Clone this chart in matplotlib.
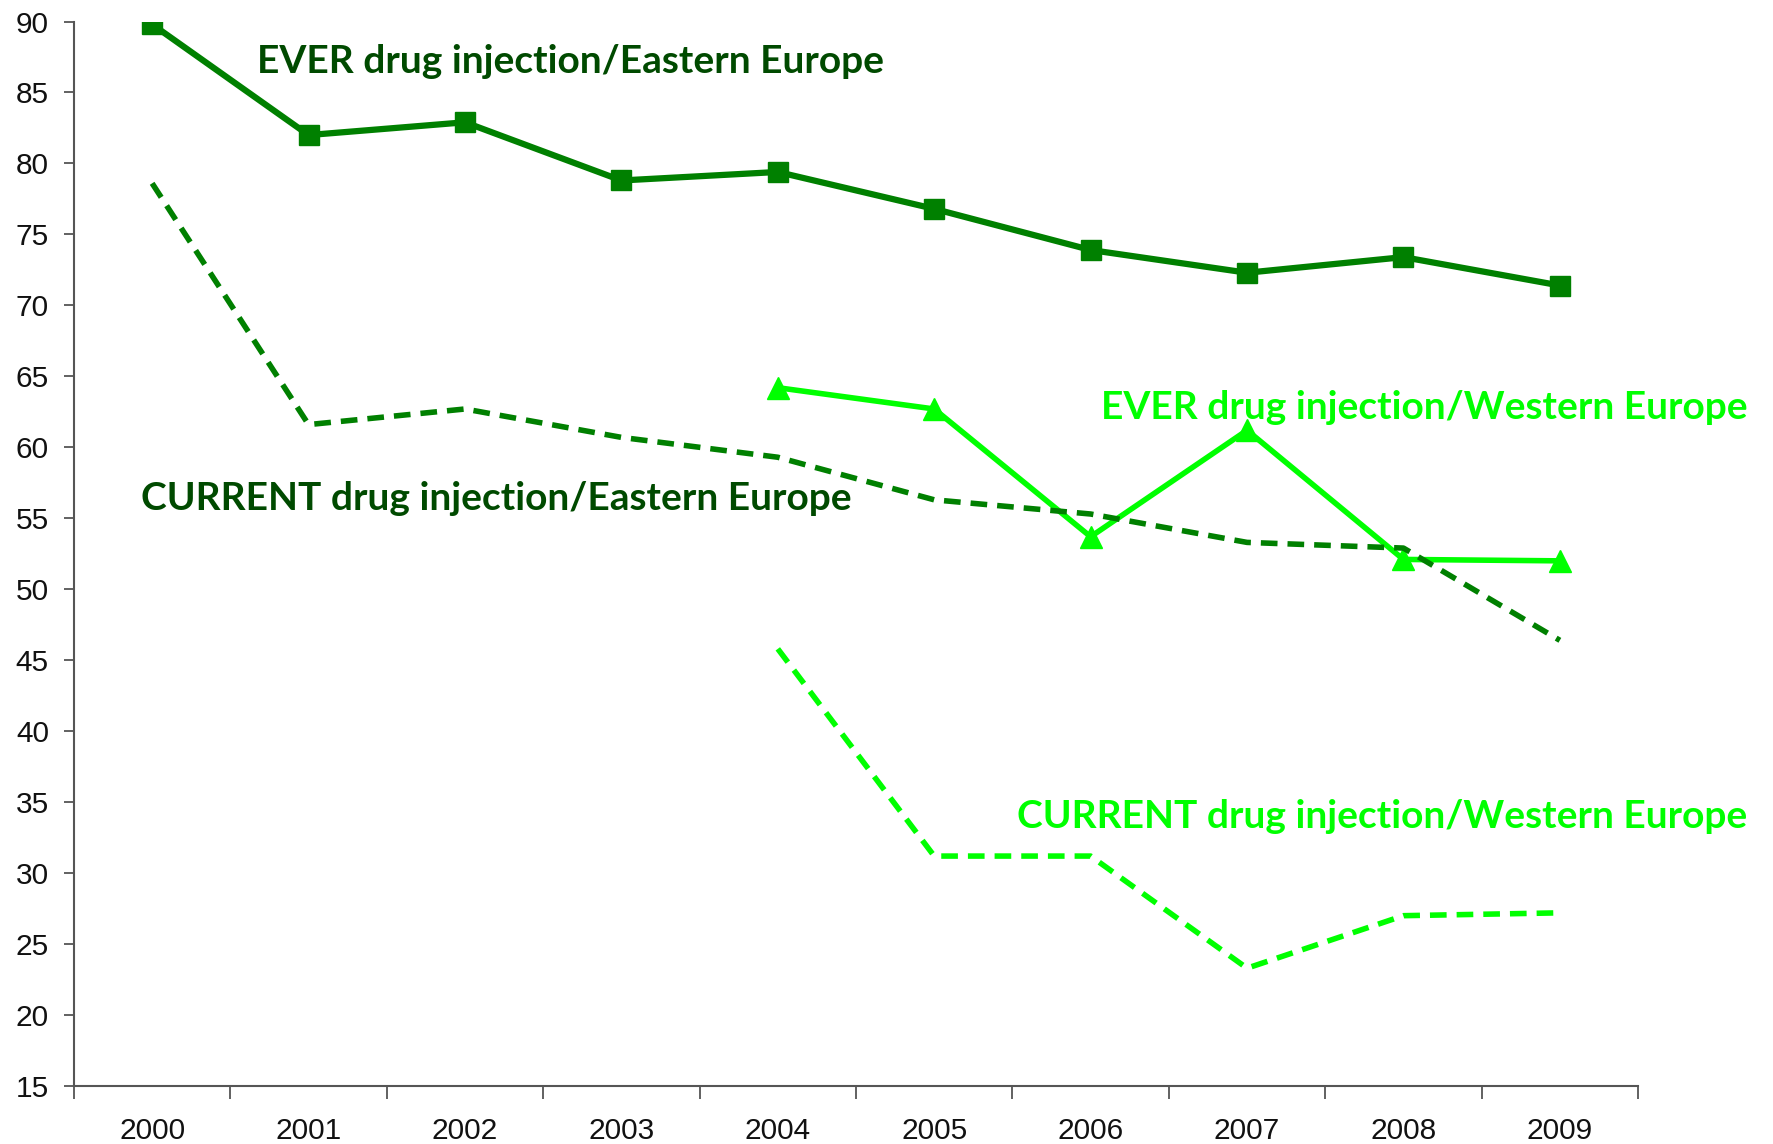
import numpy as np
import matplotlib.pyplot as plt

years = ['2000', '2001', '2002', '2003', '2004', '2005', '2006', '2007', '2008', '2009']
ever_east = [89.8, 82.0, 82.9, 78.8, 79.4, 76.8, 73.9, 72.3, 73.4, 71.4]
current_east = [78.6, 61.6, 62.7, 60.7, 59.3, 56.3, 55.3, 53.3, 52.9, 46.4]
ever_west = [None, None, None, None, 64.2, 62.7, 53.7, 61.2, 52.1, 52.0]
current_west = [None, None, None, None, 45.8, 31.2, 31.2, 23.3, 27.0, 27.2]

dark = '#008000'
dark_text = '#004a00'
light = '#00ff00'

plt.rcParams['font.family'] = 'Liberation Sans'

def to_arr(v):
    return np.array([np.nan if a is None else a for a in v], dtype=float)

x = np.arange(len(years))

fig = plt.figure(figsize=(17.73, 11.44), dpi=100)
ax = fig.add_axes([0.0417, 0.0507, 0.8822, 0.9305])

ax.plot(x, to_arr(ever_west), color=light, lw=4, marker='^', markersize=16, zorder=2)
ax.plot(x, to_arr(current_west), color=light, lw=4, ls=(0, (3, 1.8)), zorder=2)
ax.plot(x, to_arr(current_east), color=dark, lw=4, ls=(0, (3, 1.8)), zorder=3)
ax.plot(x, to_arr(ever_east), color=dark, lw=4.5, marker='s', markersize=15, zorder=4)

ax.set_xlim(-0.5, 9.5)
ax.set_ylim(15, 90)
ax.set_yticks(np.arange(15, 91, 5))

# boundaries as major ticks, labels on minor ticks
ax.set_xticks(np.arange(-0.5, 10, 1))
ax.set_xticklabels([])
ax.set_xticks(x, minor=True)
ax.set_xticklabels(years, minor=True, fontsize=21.5)
ax.tick_params(axis='x', which='major', length=9, width=1.3, color='#555555')
ax.tick_params(axis='x', which='minor', length=0, pad=22, labelcolor='#111111')
ax.set_yticklabels([str(v) for v in range(15, 91, 5)], fontsize=21.5)
ax.tick_params(axis='y', length=7, width=1.3, color='#555555', pad=11, labelcolor='#111111')

for s in ['top', 'right']:
    ax.spines[s].set_visible(False)
for s in ['left', 'bottom']:
    ax.spines[s].set_color('#555555')
    ax.spines[s].set_linewidth(1.5)

tfont = dict(family='Lato', weight='bold', fontsize=28)
ax.text(0.67, 87.2, 'EVER drug injection/Eastern Europe', color=dark_text, ha='left', va='center', **tfont)
ax.text(-0.07, 56.4, 'CURRENT drug injection/Eastern Europe', color=dark_text, ha='left', va='center', **tfont)
ax.text(10.2, 62.8, 'EVER drug injection/Western Europe', color=light, ha='right', va='center', clip_on=False, **tfont)
ax.text(10.2, 34.0, 'CURRENT drug injection/Western Europe', color=light, ha='right', va='center', clip_on=False, **tfont)

fig.savefig('out.png', dpi=100)
